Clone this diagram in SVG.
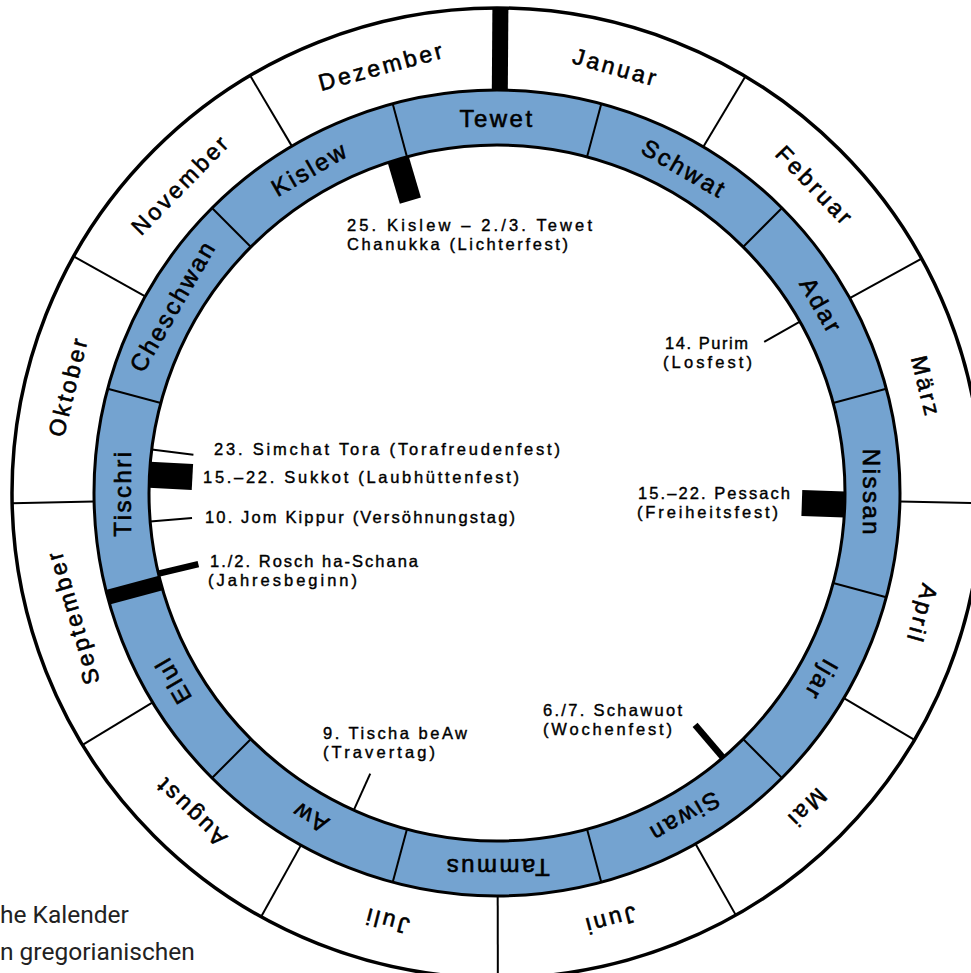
<svg xmlns="http://www.w3.org/2000/svg" width="971" height="973" viewBox="0 0 971 973">
<style>
.rl{fill:none;stroke:#000;stroke-width:3}
.dv{stroke:#000;stroke-width:2}
.mk{stroke:#000;stroke-width:2}
.mkt{stroke:#000;stroke-width:6.5}
.bar{fill:#000}
.heb{font-family:"Liberation Sans",Arial,sans-serif;font-size:24px;text-anchor:middle;letter-spacing:2.5px;fill:#000;stroke:#000;stroke-width:0.6px}
.greg{font-family:"Liberation Sans",Arial,sans-serif;font-size:23px;text-anchor:middle;letter-spacing:3px;fill:#000;stroke:#000;stroke-width:0.6px}
.hol{font-family:"Liberation Sans",Arial,sans-serif;font-size:16.5px;fill:#000;stroke:#000;stroke-width:0.4px}
.cap{font-family:Roboto,"Liberation Sans",sans-serif;font-size:24.5px;fill:#222}
</style>
<rect width="971" height="973" fill="#fff"/>
<g id="rings">
<circle cx="497" cy="493" r="485" fill="#fff" stroke="#000" stroke-width="3.5"/>
<circle cx="497" cy="493" r="375.5" fill="none" stroke="#74a3d0" stroke-width="55"/>
</g>
<g id="gregorian-dividers">
<line class="dv" x1="497" y1="90" x2="497" y2="8" transform="rotate(30.8 497 493)"/>
<line class="dv" x1="497" y1="90" x2="497" y2="8" transform="rotate(61.1 497 493)"/>
<line class="dv" x1="497" y1="90" x2="497" y2="8" transform="rotate(91.2 497 493)"/>
<line class="dv" x1="497" y1="90" x2="497" y2="8" transform="rotate(120.6 497 493)"/>
<line class="dv" x1="497" y1="90" x2="497" y2="8" transform="rotate(150.5 497 493)"/>
<line class="dv" x1="497" y1="90" x2="497" y2="8" transform="rotate(179.9 497 493)"/>
<line class="dv" x1="497" y1="90" x2="497" y2="8" transform="rotate(209.1 497 493)"/>
<line class="dv" x1="497" y1="90" x2="497" y2="8" transform="rotate(238.7 497 493)"/>
<line class="dv" x1="497" y1="90" x2="497" y2="8" transform="rotate(268.8 497 493)"/>
<line class="dv" x1="497" y1="90" x2="497" y2="8" transform="rotate(299.2 497 493)"/>
<line class="dv" x1="497" y1="90" x2="497" y2="8" transform="rotate(329.4 497 493)"/>
<rect class="bar" x="489" y="8" width="16" height="82" transform="rotate(0.4 497 493)"/>
</g>
<g id="hebrew-dividers">
<line class="dv" x1="497" y1="145" x2="497" y2="90" transform="rotate(15 497 493)"/>
<line class="dv" x1="497" y1="145" x2="497" y2="90" transform="rotate(45 497 493)"/>
<line class="dv" x1="497" y1="145" x2="497" y2="90" transform="rotate(75 497 493)"/>
<line class="dv" x1="497" y1="145" x2="497" y2="90" transform="rotate(105 497 493)"/>
<line class="dv" x1="497" y1="145" x2="497" y2="90" transform="rotate(135 497 493)"/>
<line class="dv" x1="497" y1="145" x2="497" y2="90" transform="rotate(165 497 493)"/>
<line class="dv" x1="497" y1="145" x2="497" y2="90" transform="rotate(195 497 493)"/>
<line class="dv" x1="497" y1="145" x2="497" y2="90" transform="rotate(225 497 493)"/>
<line class="dv" x1="497" y1="145" x2="497" y2="90" transform="rotate(285 497 493)"/>
<line class="dv" x1="497" y1="145" x2="497" y2="90" transform="rotate(315 497 493)"/>
<line class="dv" x1="497" y1="145" x2="497" y2="90" transform="rotate(345 497 493)"/>
<rect class="bar" x="489.5" y="90" width="15" height="55" transform="rotate(255 497 493)"/>
</g>
<g id="connectors">
<rect class="bar" x="486" y="145" width="22" height="43" transform="rotate(343.5 497 493)"/>
<line class="mk" x1="497" y1="145" x2="497" y2="186" transform="rotate(60.5 497 493)"/>
<rect class="bar" x="484" y="145" width="26" height="43" transform="rotate(91.9 497 493)"/>
<line class="mkt" x1="497" y1="145" x2="497" y2="188" transform="rotate(139.5 497 493)"/>
<line class="mk" x1="497" y1="145" x2="497" y2="185" transform="rotate(204.3 497 493)"/>
<line class="mkt" x1="497" y1="145" x2="497" y2="186" transform="rotate(256.6 497 493)"/>
<line class="mk" x1="497" y1="145" x2="497" y2="187" transform="rotate(265.3 497 493)"/>
<rect class="bar" x="484" y="145" width="26" height="43" transform="rotate(273 497 493)"/>
<line class="mk" x1="497" y1="145" x2="497" y2="187" transform="rotate(277.2 497 493)"/>
</g>
<g id="ring-outlines">
<circle class="rl" cx="497" cy="493" r="403"/>
<circle class="rl" cx="497" cy="493" r="348"/>
</g>
<g id="hebrew-months">
<g id="m-tewet"><text class="heb" x="497" y="127" transform="rotate(0 497 493)">Tewet</text></g>
<g id="m-schwat"><text class="heb" x="497" y="127" transform="rotate(30 497 493)">Schwat</text></g>
<g id="m-adar"><text class="heb" x="497" y="127" transform="rotate(60 497 493)">Adar</text></g>
<g id="m-nissan"><text class="heb" x="497" y="127" transform="rotate(90 497 493)">Nissan</text></g>
<g id="m-ijar"><text class="heb" x="497" y="127" transform="rotate(120 497 493)">Ijar</text></g>
<g id="m-siwan"><text class="heb" x="497" y="127" transform="rotate(150 497 493)">Siwan</text></g>
<g id="m-tammus"><text class="heb" x="497" y="127" transform="rotate(180 497 493)">Tammus</text></g>
<g id="m-aw"><text class="heb" x="497" y="127" transform="rotate(210 497 493)">Aw</text></g>
<g id="m-elul"><text class="heb" x="497" y="127" transform="rotate(240 497 493)">Elul</text></g>
<g id="m-tischri"><text class="heb" x="497" y="127" transform="rotate(270 497 493)">Tischri</text></g>
<g id="m-cheschwan"><text class="heb" x="497" y="127" transform="rotate(300 497 493)">Cheschwan</text></g>
<g id="m-kislew"><text class="heb" x="497" y="127" transform="rotate(330 497 493)">Kislew</text></g>
</g>
<g id="gregorian-months">
<g id="g-januar"><text class="greg" x="497" y="59" transform="rotate(15.6 497 493)">Januar</text></g>
<g id="g-februar"><text class="greg" x="497" y="59" transform="rotate(46 497 493)">Februar</text></g>
<g id="g-maerz"><text class="greg" x="497" y="59" transform="rotate(76.1 497 493)">März</text></g>
<g id="g-april"><text class="greg" x="497" y="59" transform="rotate(105.9 497 493)">April</text></g>
<g id="g-mai"><text class="greg" x="497" y="59" transform="rotate(135.5 497 493)">Mai</text></g>
<g id="g-juni"><text class="greg" x="497" y="59" transform="rotate(165.2 497 493)">Juni</text></g>
<g id="g-juli"><text class="greg" x="497" y="59" transform="rotate(194.5 497 493)">Juli</text></g>
<g id="g-august"><text class="greg" x="497" y="59" transform="rotate(223.9 497 493)">August</text></g>
<g id="g-september"><text class="greg" x="497" y="59" transform="rotate(253.7 497 493)">September</text></g>
<g id="g-oktober"><text class="greg" x="497" y="59" transform="rotate(284 497 493)">Oktober</text></g>
<g id="g-november"><text class="greg" x="497" y="59" transform="rotate(314.3 497 493)">November</text></g>
<g id="g-dezember"><text class="greg" x="497" y="59" transform="rotate(344.9 497 493)">Dezember</text></g>
</g>
<g id="holidays">
<g id="h-chanukka"><text class="hol" x="347" y="231" textLength="245" lengthAdjust="spacing">25. Kislew – 2./3. Tewet</text><text class="hol" x="347" y="250" textLength="221" lengthAdjust="spacing">Chanukka (Lichterfest)</text></g>
<g id="h-purim"><text class="hol" x="665" y="349" textLength="83" lengthAdjust="spacing">14. Purim</text><text class="hol" x="663" y="368" textLength="89" lengthAdjust="spacing">(Losfest)</text></g>
<g id="h-pessach"><text class="hol" x="638" y="499" textLength="152" lengthAdjust="spacing">15.–22. Pessach</text><text class="hol" x="637" y="518" textLength="141" lengthAdjust="spacing">(Freiheitsfest)</text></g>
<g id="h-schawuot"><text class="hol" x="543" y="716" textLength="139" lengthAdjust="spacing">6./7. Schawuot</text><text class="hol" x="543" y="735" textLength="129" lengthAdjust="spacing">(Wochenfest)</text></g>
<g id="h-tischa"><text class="hol" x="323" y="739" textLength="144" lengthAdjust="spacing">9. Tischa beAw</text><text class="hol" x="323" y="758" textLength="112" lengthAdjust="spacing">(Travertag)</text></g>
<g id="h-rosch"><text class="hol" x="210" y="567" textLength="208" lengthAdjust="spacing">1./2. Rosch ha-Schana</text><text class="hol" x="208" y="586" textLength="149" lengthAdjust="spacing">(Jahresbeginn)</text></g>
<g id="h-jomkippur"><text class="hol" x="205" y="523" textLength="310" lengthAdjust="spacing">10. Jom Kippur (Versöhnungstag)</text></g>
<g id="h-sukkot"><text class="hol" x="203" y="483" textLength="316" lengthAdjust="spacing">15.–22. Sukkot (Laubhüttenfest)</text></g>
<g id="h-simchat"><text class="hol" x="214" y="455" textLength="346" lengthAdjust="spacing">23. Simchat Tora (Torafreudenfest)</text></g>
</g>
<g id="caption">
<text class="cap" x="0" y="923">he Kalender</text>
<text class="cap" x="0" y="960">n gregorianischen</text>
</g>
</svg>
